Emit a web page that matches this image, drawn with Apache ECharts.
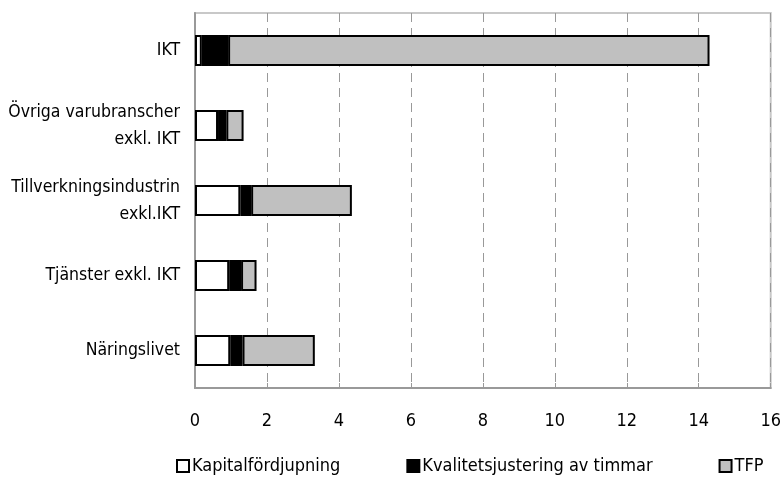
<!DOCTYPE html>
<html>
<head>
<meta charset="utf-8">
<script src="https://cdn.jsdelivr.net/npm/echarts@6/dist/echarts.min.js"></script>
<style>
  html, body { margin: 0; padding: 0; background: #fff; }
  #chart { width: 784px; height: 478px; }
</style>
</head>
<body>
<div id="chart"></div>
<script>
// Sectors, listed top to bottom
const categories = [
  'IKT',
  'Övriga varubranscher\nexkl. IKT',
  'Tillverkningsindustrin\nexkl.IKT',
  'Tjänster exkl. IKT',
  'Näringslivet'
];
// Components of labour productivity growth, percent
const kapital = [0.19, 0.64, 1.26, 0.95, 0.98];
const kvalitet = [0.73, 0.23, 0.30, 0.33, 0.34];
const tfp = [13.38, 0.48, 2.80, 0.43, 2.01];
const xTicks = [0, 2, 4, 6, 8, 10, 12, 14, 16];

const FONT = '"Liberation Sans Narrow", "DejaVu Sans Condensed", "Roboto Condensed", sans-serif';

const chart = echarts.init(document.getElementById('chart'), null, { renderer: 'canvas' });

function seg(name, data, color) {
  return {
    name: name,
    type: 'bar',
    stack: 'total',
    data: data,
    barWidth: 31,
    itemStyle: { color: color, borderColor: '#000', borderWidth: 2 },
    emphasis: { disabled: true }
  };
}

chart.setOption({
  animation: false,
  backgroundColor: '#fff',
  textStyle: { fontFamily: FONT },
  grid: {
    left: 195, right: 9, top: 13, bottom: 90,
    show: true, borderColor: '#c8c8c8', borderWidth: 2
  },
  legend: {
    bottom: -2,
    left: 171,
    itemGap: 66,
    itemWidth: 12,
    itemHeight: 12,
    icon: 'rect',
    textStyle: { fontFamily: FONT, fontSize: 18, color: '#000', padding: [0, 0, 0, -2] },
    data: ['Kapitalfördjupning', 'Kvalitetsjustering av timmar', 'TFP']
  },
  xAxis: {
    type: 'value',
    min: xTicks[0],
    max: xTicks[xTicks.length - 1],
    interval: 2,
    axisLine: { show: true, lineStyle: { color: '#999', width: 2 } },
    axisTick: { show: true, inside: true, length: 5, lineStyle: { color: '#999' } },
    axisLabel: { fontFamily: FONT, fontSize: 18, color: '#000', margin: 24 },
    splitLine: { show: true, lineStyle: { color: '#999', type: [9, 6], width: 1 } }
  },
  yAxis: {
    type: 'category',
    inverse: true,
    data: categories,
    axisLine: { show: true, lineStyle: { color: '#999', width: 2 } },
    axisTick: { show: false },
    axisLabel: { fontFamily: FONT, fontSize: 17.5, color: '#000', margin: 15, lineHeight: 27, align: 'right' }
  },
  series: [
    seg('Kapitalfördjupning', kapital, '#ffffff'),
    seg('Kvalitetsjustering av timmar', kvalitet, '#000000'),
    seg('TFP', tfp, '#c0c0c0')
  ]
});
</script>
</body>
</html>
